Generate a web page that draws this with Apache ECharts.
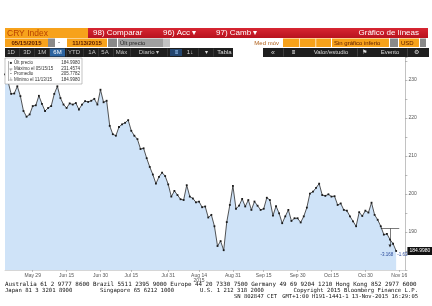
<!DOCTYPE html>
<html><head><meta charset="utf-8">
<script src="https://cdn.jsdelivr.net/npm/echarts@6/dist/echarts.min.js"></script>
<style>html,body{margin:0;padding:0;background:#fff}#c{width:432px;height:306px}</style>
</head><body><div id="c"></div>
<script>
// ---------- DATA ----------
const categories = [
"05/15","05/18","05/19","05/20","05/21","05/22","05/26","05/27","05/28","05/29",
"06/01","06/02","06/03","06/04","06/05","06/08","06/09","06/10","06/11","06/12","06/15","06/16","06/17","06/18","06/19","06/22","06/23","06/24","06/25","06/26","06/29","06/30",
"07/01","07/02","07/06","07/07","07/08","07/09","07/10","07/13","07/14","07/15","07/16","07/17","07/20","07/21","07/22","07/23","07/24","07/27","07/28","07/29","07/30","07/31",
"08/03","08/04","08/05","08/06","08/07","08/10","08/11","08/12","08/13","08/14","08/17","08/18","08/19","08/20","08/21","08/24","08/25","08/26","08/27","08/28","08/31",
"09/01","09/02","09/03","09/04","09/08","09/09","09/10","09/11","09/14","09/15","09/16","09/17","09/18","09/21","09/22","09/23","09/24","09/25","09/28","09/29","09/30",
"10/01","10/02","10/05","10/06","10/07","10/08","10/09","10/12","10/13","10/14","10/15","10/16","10/19","10/20","10/21","10/22","10/23","10/26","10/27","10/28","10/29","10/30",
"11/02","11/03","11/04","11/05","11/06","11/09","11/10","11/11","11/12","11/13",
"11/16","11/17","11/18"
];
const values = [
231.4574,229.5,226.3,226.4,228.3,225.7,221.8,220.3,220.9,223.1,
223.3,225.8,223.7,221.8,222.6,223.1,226.3,228.3,225.2,223.5,
222.6,223.8,223.5,223.9,222.2,223.5,224.4,224.2,224.5,225.0,
223.5,227.4,224.1,224.5,217.9,215.7,215.3,217.6,218.3,218.7,
219.4,216.6,215.3,214.4,211.8,212.0,209.4,207.1,205.1,202.7,
204.5,205.6,204.7,202.5,199.3,200.8,199.7,198.6,198.4,202.3,
199.3,198.8,197.8,198.0,196.5,196.7,193.8,194.5,191.5,186.3,
187.6,185.2,192.6,197.1,202.1,196.1,196.9,198.7,196.7,198.4,
195.8,198.0,196.9,195.8,196.1,199.0,198.4,194.3,196.8,194.9,
192.3,194.1,195.8,192.9,193.6,193.6,192.5,194.1,196.4,200.1,
200.6,201.6,202.7,199.7,199.5,199.9,199.3,199.4,197.1,197.5,
195.8,195.6,194.1,192.8,191.5,195.2,194.2,195.6,195.1,197.7,
194.5,193.2,191.5,189.3,189.5,188.0,186.9,184.998
];
const tickDates  = ["05/29","06/15","06/30","07/15","07/31","08/14","08/31","09/15","09/30","10/15","10/30","11/16"];
const tickLabels = ["May 29","Jun 15","Jun 30","Jul 15","Jul 31","Aug 14\n2015","Aug 31","Sep 15","Sep 30","Oct 15","Oct 30","Nov 16"];
const yTickLabels = [190,200,210,220,230];
const lastLabel = "184.9980";
const legendLabels = ["Últ precio","Máximo el 05/15/15","Promedio","Mínimo el 11/13/15"];
const legendValues = ["184.9980","231.4574","205.7782","184.9980"];
const annotLevel = 190.9, annotLow = 186.3, annotTextLevel = 183.9;
const annotTexts = ["-3.168","-1.63"];

// ---------- UI helpers ----------
const UI = 'Liberation Sans, Arial, sans-serif';
const MONO = 'DejaVu Sans Mono, Liberation Mono, monospace';
const G = [];
function rect(x,y,w,h,fill,stroke){G.push({type:'rect',silent:true,z:10,shape:{x:x,y:y,width:w,height:h},style:{fill:fill,stroke:stroke||null,lineWidth:stroke?0.6:0}});}
function txt(x,y,t,o){o=o||{};G.push({type:'text',silent:true,z:11,x:x,y:y,style:{text:t,fill:o.c||'#000',font:(o.b?'bold ':'')+(o.s||6)+'px '+(o.f||UI),textAlign:o.a||'left',textVerticalAlign:'middle'}});}

// Row 1
rect(5,28,83,10,'#f7a21b');
txt(7,33.2,'CRY Index',{c:'#b84300',s:8.5});
G.push({type:'rect',silent:true,z:10,shape:{x:88,y:28,width:340,height:10},style:{fill:{type:'linear',x:0,y:0,x2:0,y2:1,colorStops:[{offset:0,color:'#d72632'},{offset:1,color:'#b8121e'}]}}});
txt(93,33.2,'98) Comparar',{c:'#fff',s:8});
txt(163,33.2,'96) Acc ▾',{c:'#fff',s:8});
txt(216,33.2,'97) Camb ▾',{c:'#fff',s:8});
txt(419,33.2,'Gráfico de líneas',{c:'#fff',s:8,a:'right'});
// Row 2
rect(5,38.5,43,8.5,'#f7a21b'); txt(26.5,43,'05/15/2015',{c:'#5a1a00',s:6,b:1,a:'center'});
rect(48,38.5,7,8.5,'#8a8a8a');
rect(55,38.5,8,8.5,'#fff'); txt(59,42.8,'-',{c:'#333',s:6,a:'center'});
rect(67,38.5,40,8.5,'#f7a21b'); txt(87,43,'11/13/2015',{c:'#5a1a00',s:6,b:1,a:'center'});
rect(108,38.5,9,8.5,'#8a8a8a');
rect(118,38.5,45,8.5,'#a0a0a0'); txt(120,43,'Últ precio',{c:'#222',s:6});
rect(163,38.5,7,8.5,'#c4c4c4');
txt(279,43,'Med móv',{c:'#b0601a',s:6,a:'right'});
rect(283,38.5,48,8.5,'#f7a21b');
rect(299,38.5,0.7,8.5,'#fff'); rect(315.5,38.5,0.7,8.5,'#fff');
rect(332,38.5,57,8.5,'#f7a21b'); txt(334,43,'Sin gráfico inferio',{c:'#5a1a00',s:6});
rect(390,38.5,8,8.5,'#8a8a8a');
rect(399,38.5,20,8.5,'#f7a21b'); txt(401,43,'USD',{c:'#5a1a00',s:6});
rect(420,38.5,6,8.5,'#8a8a8a');
// Row 3
rect(5,48,228,9,'#1e1e1e');
[[11,'1D'],[27,'3D'],[42,'1M'],[74,'YTD'],[92,'1A'],[105,'5A'],[121.5,'Máx'],[149,'Diario ▾']].forEach(function(b){txt(b[0],52.6,b[1],{c:'#c8c8c8',s:6,a:'center'});});
rect(50,48.5,15,8,'#2b63a0'); txt(57.5,52.6,'6M',{c:'#fff',s:6,a:'center'});
[19,34,49,66,83,98,113,130,167,198,213].forEach(function(x){rect(x,48.5,0.6,8,'#444');});
rect(170,49,12,7,'#23456e'); txt(176,52.6,'⩩',{c:'#8cb8e8',s:6,a:'center'});
txt(190,52.6,'1↓',{c:'#ddd',s:6,a:'center'});
txt(206,52.6,'▾',{c:'#ddd',s:6,a:'center'});
txt(224.5,52.6,'Tabla',{c:'#ddd',s:6,a:'center'});
rect(263,48,166,9,'#1e1e1e');
[283,357,407].forEach(function(x){rect(x,48.5,0.6,8,'#555');});
txt(273,52.6,'«',{c:'#ddd',s:7,a:'center'});
txt(293,52.6,'⩩',{c:'#ddd',s:6,a:'center'});
txt(331,52.6,'Valor/estudio',{c:'#ddd',s:6,a:'center'});
txt(364,52.6,'⚑',{c:'#ddd',s:6,a:'center'});
txt(390,52.6,'Evento',{c:'#ddd',s:6,a:'center'});
txt(416,52.6,'⚙',{c:'#ddd',s:6,a:'center'});
// Legend box
rect(5,58,77,26,'#fff','#9a9a9a');
G.push({type:'line',silent:true,z:11,shape:{x1:8.5,y1:61,x2:8.5,y2:81},style:{stroke:'#666',lineWidth:0.5}});
['■','╤','•','╧'].forEach(function(m,i){txt(11,63+i*5.5,m,{c:'#333',s:4,a:'center'});});
legendLabels.forEach(function(l,i){txt(14,63+i*5.5,l,{c:'#333',s:4.5});});
legendValues.forEach(function(v,i){txt(80,63+i*5.5,v,{c:'#333',s:4.5,a:'right'});});
// Footer
txt(5,284,'Australia 61 2 9777 8600 Brazil 5511 2395 9000 Europe 44 20 7330 7500 Germany 49 69 9204 1210 Hong Kong 852 2977 6000',{f:MONO,s:5.85,c:'#111'});
txt(5,290.5,'Japan 81 3 3201 8900',{f:MONO,s:5.6,c:'#111'});
txt(100,290.5,'Singapore 65 6212 1000',{f:MONO,s:5.6,c:'#111'});
txt(200,290.5,'U.S. 1 212 318 2000',{f:MONO,s:5.6,c:'#111'});
txt(418,290.5,'Copyright 2015 Bloomberg Finance L.P.',{f:MONO,s:5.6,c:'#111',a:'right'});
txt(234,297,'SN 802847 CET',{f:MONO,s:5.5,c:'#111'});
txt(418,297,'GMT+1:00 H191-1441-1 13-Nov-2015 16:29:05',{f:MONO,s:5.5,c:'#111',a:'right'});

// ---------- CHART ----------
const chart = echarts.init(document.getElementById('c'), null, {renderer:'canvas'});
const lastVal = values[values.length-1];
const annotStart = values.length - 6, annotEnd = values.length, annotX = values.length - 3;
chart.setOption({
  animation:false,
  textStyle:{fontFamily:UI},
  grid:{left:5,right:26.6,top:57,bottom:36,containLabel:false},
  xAxis:{
    type:'category', data:categories, boundaryGap:false,
    axisLine:{show:true,lineStyle:{color:'#bbb',width:0.6}},
    axisTick:{show:true,length:2,lineStyle:{color:'#888',width:0.5},interval:function(i,v){return tickDates.indexOf(v)>=0;}},
    axisLabel:{show:true,fontSize:5,color:'#555',margin:2.5,lineHeight:5.5,
      interval:function(i,v){return tickDates.indexOf(v)>=0;},
      formatter:function(v){var k=tickDates.indexOf(v);return k>=0?tickLabels[k]:'';}},
    splitLine:{show:false}
  },
  yAxis:{
    type:'value', position:'right', min:180, max:236, interval:5, scale:true,
    axisLine:{show:true,lineStyle:{color:'#999',width:0.6}},
    axisTick:{show:true,length:2,lineStyle:{color:'#777',width:0.5}},
    axisLabel:{fontSize:5,color:'#555',margin:3,formatter:function(v){return yTickLabels.indexOf(v)>=0?String(v):'';}},
    splitLine:{show:false}
  },
  series:[{
    type:'line', data:values, symbol:'rect', symbolSize:1.8, showSymbol:true, showAllSymbol:true,
    lineStyle:{color:'#2a2a2a',width:0.8},
    itemStyle:{color:'#1a1a1a'},
    areaStyle:{color:'#cfe3f8',opacity:1},
    z:2,
    markLine:{
      silent:true, animation:false, symbol:['none','none'],
      data:[
        [{coord:[annotStart,annotLevel],lineStyle:{color:'#222',width:0.6,type:'solid'},label:{show:false}},{coord:[annotEnd,annotLevel]}],
        [{coord:[annotX,annotLevel],lineStyle:{color:'#222',width:0.6,type:'solid'},label:{show:false},symbol:'none'},{coord:[annotX,annotLow],symbol:'triangle',symbolSize:3}]
      ]
    },
    markPoint:{
      silent:true, symbol:'circle', symbolSize:0, animation:false,
      data:[
        {coord:[annotX-1,annotTextLevel],label:{show:true,formatter:annotTexts[0],color:'#2a4a9a',fontSize:4.5,position:'inside'}},
        {coord:[annotEnd+1,annotTextLevel],label:{show:true,formatter:annotTexts[1],color:'#2a4a9a',fontSize:4.5,position:'inside'}}
      ]
    }
  },{
    type:'line', data:[], z:5,
    markLine:{
      silent:true, animation:false, symbol:['none','none'],
      lineStyle:{color:'rgba(0,0,0,0)',width:0},
      label:{show:true,position:'end',distance:2,formatter:lastLabel,color:'#fff',backgroundColor:'#111',fontSize:5,padding:[1.5,2,1.5,2],opacity:1},
      data:[{yAxis:lastVal}]
    }
  }],
  graphic:G
});
</script></body></html>
